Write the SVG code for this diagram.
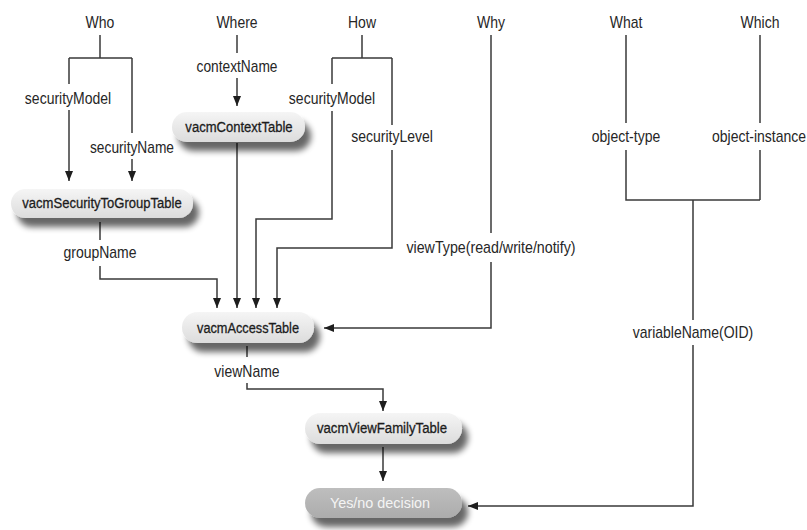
<svg xmlns="http://www.w3.org/2000/svg" width="807" height="530" viewBox="0 0 807 530">
  <style>
    .lbl { font-family: "Liberation Sans", Arial, sans-serif; font-size: 16px; fill: #262626; text-anchor: middle; }
    .ntxt { font-family: "Liberation Sans", Arial, sans-serif; font-size: 15px; fill: #1c1c1c; stroke: #1c1c1c; stroke-width: 0.3; text-anchor: middle; }
    .ytxt { font-family: "Liberation Sans", Arial, sans-serif; font-size: 15px; fill: #f4f4f4; text-anchor: middle; }
    .node { fill: url(#ng); filter: url(#sh); }
    .dec { fill: url(#dg); filter: url(#sh); }
    .wire { fill: none; stroke: #3a3a3a; stroke-width: 1.5; }
    .arr { fill: none; stroke: #3a3a3a; stroke-width: 1.5; marker-end: url(#ah); }
  </style>
  <defs>
    <linearGradient id="ng" x1="0" y1="0" x2="0" y2="1">
      <stop offset="0" stop-color="#f5f5f5"/>
      <stop offset="1" stop-color="#dcdcdc"/>
    </linearGradient>
    <linearGradient id="dg" x1="0" y1="0" x2="0" y2="1">
      <stop offset="0" stop-color="#bebebe"/>
      <stop offset="1" stop-color="#acacac"/>
    </linearGradient>
    <filter id="sh" x="-10%" y="-30%" width="130%" height="190%">
      <feGaussianBlur in="SourceAlpha" stdDeviation="3"/>
      <feOffset dx="6" dy="9" result="b"/>
      <feComponentTransfer in="b" result="s">
        <feFuncA type="linear" slope="0.6"/>
      </feComponentTransfer>
      <feMerge>
        <feMergeNode in="s"/>
        <feMergeNode in="SourceGraphic"/>
      </feMerge>
    </filter>
    <marker id="ah" markerUnits="userSpaceOnUse" markerWidth="11" markerHeight="9" refX="10" refY="4" orient="auto">
      <path d="M0,0 L10,4 L0,8 z" fill="#1e1e1e"/>
    </marker>
  </defs>

  <g id="connectors">
    <!-- Who -->
    <path class="wire" d="M100,35 V58 M69,58 H132 M69,58 V84 M132,58 V133"/>
    <path class="arr" d="M69,110 V181"/>
    <path class="arr" d="M132,159 V181"/>
    <!-- Where -->
    <path class="wire" d="M237,35 V53"/>
    <path class="arr" d="M237,78 V106"/>
    <path class="arr" d="M237,143 V308"/>
    <!-- How -->
    <path class="wire" d="M362,35 V58 M332,58 H392 M332,58 V84 M392,58 V125"/>
    <path class="arr" d="M332,111 V219 H256 V308"/>
    <path class="arr" d="M392,150 V248 H277 V308"/>
    <!-- groupName -->
    <path class="wire" d="M100,222 V240"/>
    <path class="arr" d="M100,266 V279 H217 V308"/>
    <!-- Why -->
    <path class="wire" d="M491,35 V233"/>
    <path class="arr" d="M491,262 V328 H324"/>
    <!-- What / Which -->
    <path class="wire" d="M626,35 V123 M626,150 V200 H760 M760,35 V123 M760,150 V200 M693,200 V320"/>
    <path class="arr" d="M693,345 V506 H468"/>
    <!-- viewName -->
    <path class="wire" d="M247,346 V357"/>
    <path class="arr" d="M247,383 V389 H383 V411"/>
    <!-- ViewFamily to decision -->
    <path class="arr" d="M383,447 V481"/>
  </g>

  <g id="labels">
    <text class="lbl" transform="translate(100 28) scale(0.875 1)">Who</text>
    <text class="lbl" transform="translate(237 28) scale(0.875 1)">Where</text>
    <text class="lbl" transform="translate(362 28) scale(0.875 1)">How</text>
    <text class="lbl" transform="translate(491 28) scale(0.875 1)">Why</text>
    <text class="lbl" transform="translate(626 28) scale(0.875 1)">What</text>
    <text class="lbl" transform="translate(760 28) scale(0.875 1)">Which</text>
    <text class="lbl" transform="translate(68 104) scale(0.875 1)">securityModel</text>
    <text class="lbl" transform="translate(132 153) scale(0.86 1)">securityName</text>
    <text class="lbl" transform="translate(237 72) scale(0.86 1)">contextName</text>
    <text class="lbl" transform="translate(332 104) scale(0.875 1)">securityModel</text>
    <text class="lbl" transform="translate(392 142) scale(0.875 1)">securityLevel</text>
    <text class="lbl" transform="translate(491 253) scale(0.89 1)">viewType(read/write/notify)</text>
    <text class="lbl" transform="translate(626 142) scale(0.875 1)">object-type</text>
    <text class="lbl" transform="translate(759 142) scale(0.875 1)">object-instance</text>
    <text class="lbl" transform="translate(100 258) scale(0.875 1)">groupName</text>
    <text class="lbl" transform="translate(247 377) scale(0.875 1)">viewName</text>
    <text class="lbl" transform="translate(693 338) scale(0.875 1)">variableName(OID)</text>
  </g>

  <g id="vacmSecurityToGroupTable">
    <rect class="node" x="11" y="189" width="182" height="29" rx="14.5"/>
    <text class="ntxt" transform="translate(102 208) scale(0.87 1)">vacmSecurityToGroupTable</text>
  </g>
  <g id="vacmContextTable">
    <rect class="node" x="172" y="112" width="133" height="30" rx="15"/>
    <text class="ntxt" transform="translate(239 132) scale(0.87 1)">vacmContextTable</text>
  </g>
  <g id="vacmAccessTable">
    <rect class="node" x="182" y="312" width="132" height="31" rx="15.5"/>
    <text class="ntxt" transform="translate(248 333) scale(0.85 1)">vacmAccessTable</text>
  </g>
  <g id="vacmViewFamilyTable">
    <rect class="node" x="305" y="413" width="157" height="31" rx="15.5"/>
    <text class="ntxt" transform="translate(382 433) scale(0.88 1)">vacmViewFamilyTable</text>
  </g>
  <g id="decision">
    <rect class="dec" x="305" y="488" width="157" height="30" rx="15"/>
    <text class="ytxt" transform="translate(380 508) scale(0.96 1)">Yes/no decision</text>
  </g>
</svg>
